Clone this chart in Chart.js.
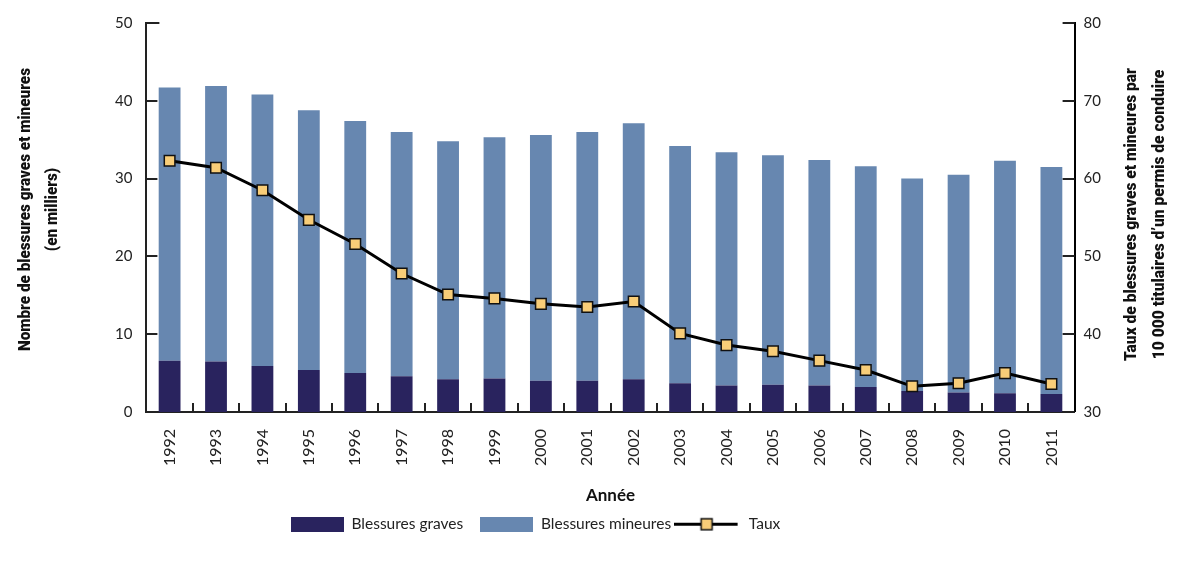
<!DOCTYPE html>
<html lang="fr">
<head>
<meta charset="utf-8">
<title>Blessures graves et mineures, 1992 à 2011</title>
<script src="https://cdn.jsdelivr.net/npm/chart.js@4.4.1/dist/chart.umd.min.js"></script>
<style>
    html, body { margin: 0; padding: 0; background: #fff; }
    #wrap { width: 1194px; height: 565px; }
</style>
</head>
<body>
<div id="wrap"><canvas id="injuryChart" width="1194" height="565"></canvas></div>
<script>
// Data
const YEARS = ["1992", "1993", "1994", "1995", "1996", "1997", "1998", "1999", "2000", "2001",
               "2002", "2003", "2004", "2005", "2006", "2007", "2008", "2009", "2010", "2011"];

// thousands
const SERIOUS = [6.6, 6.5, 5.9, 5.4, 5.0, 4.6, 4.2, 4.3, 4.0, 4.0,
                 4.2, 3.7, 3.4, 3.5, 3.4, 3.2, 2.7, 2.5, 2.4, 2.3];
const MINOR = [35.1, 35.4, 34.9, 33.4, 32.4, 31.4, 30.6, 31.0, 31.6, 32.0,
               32.9, 30.5, 30.0, 29.5, 29.0, 28.4, 27.3, 28.0, 29.9, 29.2];

// per 10 000 licence holders
const RATE = [62.3, 61.4, 58.5, 54.7, 51.6, 47.8, 45.1, 44.6, 43.9, 43.5,
              44.2, 40.1, 38.6, 37.8, 36.6, 35.4, 33.3, 33.7, 35.0, 33.6];

const LEFT_TICKS = [0, 10, 20, 30, 40, 50];
const RIGHT_TICKS = [30, 40, 50, 60, 70, 80];

const LEFT_TITLE = ["Nombre de blessures graves et mineures", "(en milliers)"];
const RIGHT_TITLE = ["Taux de blessures graves et mineures par", "10\u00a0000 titulaires d\u2019un permis de conduire"];

const NAVY = "#29235e";
const STEEL = "#6787b0";
const MARKER = "#f8cd78";
const AXIS = "#222";

const TITLE_FONT = '"Roboto", "Liberation Sans", sans-serif';
const TEXT_FONT = 'Lato, "Open Sans", sans-serif';

// legend shift (reference legend is not centred on the canvas)
const LEGEND_DX = -70;
const LEGEND_DY = -6;

function makeBoxIcon(color) {
    const c = document.createElement("canvas");
    c.width = 53;
    c.height = 15;
    const g = c.getContext("2d");
    g.fillStyle = color;
    g.fillRect(0, 0, 53, 15);
    return c;
}

function makeLineIcon() {
    const c = document.createElement("canvas");
    c.width = 82;
    c.height = 15;
    const g = c.getContext("2d");
    g.strokeStyle = "#000";
    g.lineWidth = 3;
    g.beginPath();
    g.moveTo(0, 7.5);
    g.lineTo(64, 7.5);
    g.stroke();
    g.fillStyle = MARKER;
    g.fillRect(27.5, 2, 11, 11);
    g.lineWidth = 1.5;
    g.strokeStyle = "#111";
    g.strokeRect(27.5, 2, 11, 11);
    return c;
}

const legendIcons = [makeBoxIcon(NAVY), makeBoxIcon(STEEL), makeLineIcon()];

const legendShift = {
    id: "legendShift",
    afterLayout(chart) {
        const lg = chart.legend;
        if (!lg) return;
        lg.left += LEGEND_DX;
        lg.right += LEGEND_DX;
        lg.top += LEGEND_DY;
        lg.bottom += LEGEND_DY;
    }
};

// condensed bold title, two lines, reading bottom to top
function drawSideTitle(ctx, lines, x, y, length, lineGap) {
    ctx.save();
    ctx.font = "900 17px " + TITLE_FONT;
    const widest = Math.max(...lines.map(t => ctx.measureText(t).width));
    const squeeze = Math.min(1, length / widest);
    ctx.translate(x, y);
    ctx.rotate(-Math.PI / 2);
    ctx.scale(squeeze, 1);
    ctx.fillStyle = "#111";
    ctx.textAlign = "center";
    ctx.textBaseline = "middle";
    lines.forEach((t, i) => ctx.fillText(t, 0, i * lineGap));
    ctx.restore();
}

// inward tick marks + axis titles
const axisExtras = {
    id: "axisExtras",
    afterDraw(chart) {
        const { ctx, chartArea, scales } = chart;
        ctx.save();
        ctx.strokeStyle = AXIS;
        ctx.lineWidth = 2;
        ctx.beginPath();
        LEFT_TICKS.forEach(v => {
            const py = Math.round(scales.y.getPixelForValue(v));
            ctx.moveTo(chartArea.left, py);
            ctx.lineTo(chartArea.left + (v === 50 ? 13 : 11), py);
        });
        RIGHT_TICKS.forEach(v => {
            const py = Math.round(scales.y1.getPixelForValue(v));
            ctx.moveTo(chartArea.right, py);
            ctx.lineTo(chartArea.right - 12, py);
        });
        for (let i = 1; i < YEARS.length; i++) {
            const px = Math.round((scales.x.getPixelForTick(i - 1) + scales.x.getPixelForTick(i)) / 2);
            ctx.moveTo(px, chartArea.bottom);
            ctx.lineTo(px, chartArea.bottom - 9);
        }
        ctx.stroke();
        ctx.restore();

        const cy = (chartArea.top + chartArea.bottom) / 2;
        drawSideTitle(ctx, LEFT_TITLE, chartArea.left - 121, cy - 8, 283, 27);
        drawSideTitle(ctx, RIGHT_TITLE, chartArea.right + 57, cy - 3, 293, 28);
    }
};

const ctx = document.getElementById("injuryChart").getContext("2d");

new Chart(ctx, {
    type: "bar",
    data: {
        labels: YEARS,
        datasets: [
            {
                label: "Blessures graves",
                data: SERIOUS,
                backgroundColor: NAVY,
                yAxisID: "y",
                stack: "injuries",
                order: 1
            },
            {
                label: "Blessures mineures",
                data: MINOR,
                backgroundColor: STEEL,
                yAxisID: "y",
                stack: "injuries",
                order: 1
            },
            {
                type: "line",
                label: "Taux",
                data: RATE,
                yAxisID: "y1",
                borderColor: "#000",
                borderWidth: 3,
                tension: 0,
                pointStyle: "rect",
                pointRadius: 7.5,
                pointBackgroundColor: MARKER,
                pointBorderColor: "#111",
                pointBorderWidth: 1.5,
                order: 0
            }
        ]
    },
    options: {
        responsive: false,
        animation: false,
        events: [],
        layout: {
            padding: { left: 101, right: 84, top: 13, bottom: 17 }
        },
        datasets: {
            bar: { categoryPercentage: 1, barPercentage: 0.47 }
        },
        plugins: {
            tooltip: { enabled: false },
            legend: {
                position: "bottom",
                labels: {
                    usePointStyle: true,
                    pointStyleWidth: 53,
                    boxHeight: 15,
                    padding: 17,
                    color: "#222",
                    font: { family: TEXT_FONT, size: 15.5 },
                    sort: (a, b) => a.datasetIndex - b.datasetIndex,
                    generateLabels(chart) {
                        const items = Chart.defaults.plugins.legend.labels.generateLabels(chart);
                        return items.map(item => Object.assign(item, { pointStyle: legendIcons[item.datasetIndex] }));
                    }
                }
            }
        },
        scales: {
            x: {
                stacked: true,
                grid: { display: false, drawTicks: false },
                border: { display: true, color: AXIS, width: 2 },
                ticks: {
                    autoSkip: false,
                    maxRotation: 90,
                    minRotation: 90,
                    padding: 17,
                    color: "#222",
                    font: { family: TEXT_FONT, size: 16 }
                },
                title: {
                    display: true,
                    text: "Année",
                    color: "#111",
                    font: { family: TEXT_FONT, size: 17, weight: "bold" },
                    padding: { top: 2, bottom: 0 }
                }
            },
            y: {
                stacked: true,
                min: 0,
                max: 50,
                grid: { display: false, drawTicks: false },
                border: { display: true, color: AXIS, width: 2 },
                ticks: {
                    stepSize: 10,
                    padding: 14,
                    color: "#222",
                    font: { family: TEXT_FONT, size: 15 }
                }
            },
            y1: {
                position: "right",
                min: 30,
                max: 80,
                grid: { display: false, drawTicks: false },
                border: { display: true, color: "#000", width: 2 },
                ticks: {
                    stepSize: 10,
                    padding: 9,
                    color: "#222",
                    font: { family: TEXT_FONT, size: 15 }
                }
            }
        }
    },
    plugins: [legendShift, axisExtras]
});
</script>
</body>
</html>
